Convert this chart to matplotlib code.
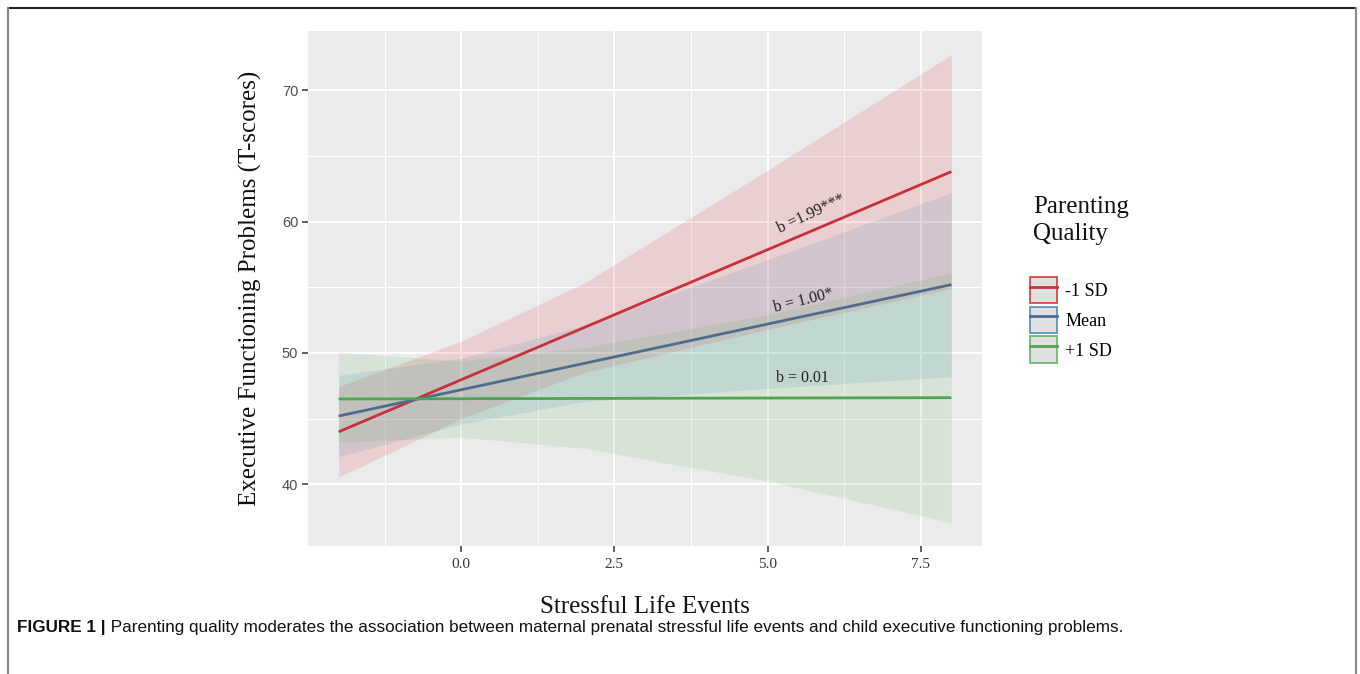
import matplotlib
matplotlib.use("Agg")
import matplotlib.pyplot as plt
from matplotlib.patches import Patch
from matplotlib.lines import Line2D

# fitted lines (Stressful life events -> EF problems), per parenting quality
line_x = [-2, 8]
red_line = [44.0, 63.8]      # -1 SD
blue_line = [45.2, 55.2]     # Mean
green_line = [46.5, 46.6]    # +1 SD

# confidence bands
band_x = [-2, 0, 2, 5, 8]
red_lo = [40.55, 45.0, 48.5, 51.8, 54.9]
red_hi = [47.45, 50.9, 55.3, 63.9, 72.7]
blue_lo = [42.1, 44.6, 46.3, 47.3, 48.2]
blue_hi = [48.3, 49.6, 52.1, 57.1, 62.2]
green_lo = [43.2, 43.6, 42.75, 40.25, 37.1]
green_hi = [50.05, 49.4, 50.4, 52.9, 56.1]

group_labels = ["-1 SD", "Mean", "+1 SD"]
slope_labels = ["b =1.99***", "b = 1.00*", "b = 0.01"]

x_ticks = [0.0, 2.5, 5.0, 7.5]
x_ticklabels = ["0.0", "2.5", "5.0", "7.5"]
y_ticks = [40, 50, 60, 70]

SERIF = "Liberation Serif"
SANS = "Liberation Sans"

fill_cols = ["#E41A1C", "#377EB8", "#4DAF4A"]
line_cols = ["#C8303A", "#4E6C8E", "#4FA452"]

fig = plt.figure(figsize=(13.6, 6.74), dpi=100)
ax = fig.add_axes([308 / 1360, 1 - 545.5 / 674, (982 - 308) / 1360, (545.5 - 31) / 674])
ax.set_facecolor("#EBEBEB")

bands = [(red_lo, red_hi), (blue_lo, blue_hi), (green_lo, green_hi)]
for (lo, hi), c in zip(bands, fill_cols):
    ax.fill_between(band_x, lo, hi, color=c, alpha=0.13, linewidth=0, zorder=2)

for ys, c in zip([red_line, blue_line, green_line], line_cols):
    ax.plot(line_x, ys, color=c, linewidth=2.0, zorder=3, solid_capstyle="butt")

# slope annotations
ax.text(5.72, 60.55, slope_labels[0], rotation=25, ha="center", va="center",
        fontsize=11.5, family=SERIF, color="#222222", zorder=4)
ax.text(5.59, 53.95, slope_labels[1], rotation=14, ha="center", va="center",
        fontsize=11.5, family=SERIF, color="#222222", zorder=4)
ax.text(5.57, 48.1, slope_labels[2], ha="center", va="center",
        fontsize=11.5, family=SERIF, color="#222222", zorder=4)

ax.set_xlim(-2.5, 8.5)
ax.set_ylim(35.35, 74.5)
ax.set_xticks(x_ticks)
ax.set_xticklabels(x_ticklabels, family=SERIF, fontsize=11, color="#333333")
ax.set_yticks(y_ticks)
ax.set_yticklabels([str(v) for v in y_ticks], family=SANS, fontsize=10.5, color="#4D4D4D")
ax.set_xticks([-1.25, 1.25, 3.75, 6.25], minor=True)
ax.set_yticks([45, 55, 65], minor=True)
ax.tick_params(axis="both", which="major", length=4, width=1.1, color="#333333", pad=3)
ax.tick_params(axis="x", which="major", pad=5)
ax.tick_params(which="minor", length=0)
ax.grid(True, which="major", color="white", linewidth=1.4, zorder=1)
ax.grid(True, which="minor", color="white", linewidth=0.7, zorder=1)
ax.set_axisbelow(True)
for s in ax.spines.values():
    s.set_visible(False)

ax.set_xlabel("Stressful Life Events", family=SERIF, fontsize=18, labelpad=18, color="#111111")
ax.set_ylabel("Executive Functioning Problems (T-scores)", family=SERIF, fontsize=18,
              labelpad=14, color="#111111")

# legend
fig.text(1033 / 1360, 1 - 196 / 674, "Parenting\nQuality", family=SERIF, fontsize=18,
         ha="left", va="top", linespacing=1.28, color="#111111")
handles = []
for fc, lc in zip(fill_cols, line_cols):
    handles.append((Patch(facecolor="#D9D9D9", edgecolor=fc, linewidth=1.3, alpha=0.8),
                    Line2D([], [], color=lc, linewidth=2.0)))
fig.legend(handles, group_labels, loc="upper left", bbox_to_anchor=(1030 / 1360, 1 - 277 / 674),
           frameon=False, borderpad=0, borderaxespad=0, handlelength=1.5, handleheight=1.88,
           handletextpad=0.45, labelspacing=0.18,
           prop={"family": SERIF, "size": 13})

# caption
cap = fig.text(17 / 1360, 1 - 632 / 674, "FIGURE 1 |", family=SANS, fontsize=12.35,
               fontweight="bold", ha="left", va="baseline", color="#111111")
ax.annotate(" Parenting quality moderates the association between maternal prenatal stressful "
            "life events and child executive functioning problems.",
            xy=(1, 0), xycoords=cap, ha="left", va="bottom", family=SANS, fontsize=12.35,
            color="#111111", annotation_clip=False)

# outer frame
fig.add_artist(Line2D([8 / 1360, 1356 / 1360], [1 - 8 / 674, 1 - 8 / 674],
                      transform=fig.transFigure, color="#222222", linewidth=1.5))
fig.add_artist(Line2D([8 / 1360, 8 / 1360], [0, 1 - 8 / 674],
                      transform=fig.transFigure, color="#888888", linewidth=1.5))
fig.add_artist(Line2D([1356 / 1360, 1356 / 1360], [0, 1 - 8 / 674],
                      transform=fig.transFigure, color="#888888", linewidth=1.5))

fig.savefig("out.png", dpi=100, facecolor="white")
